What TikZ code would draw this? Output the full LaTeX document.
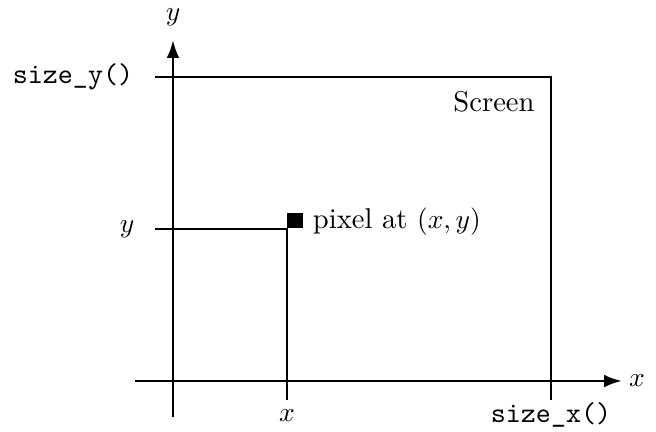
\documentclass[tikz,border=0pt]{standalone}
\usetikzlibrary{arrows.meta, positioning}
\begin{document}
\begin{tikzpicture}[x=0.3636pt, y=0.3636pt, font=\fontsize{10.4}{12}\selectfont,
  axis/.style={line width=0.95pt, -{Latex[length=6.5pt, width=4.6pt]}},
  guide/.style={line width=0.6pt}]
  \useasboundingbox (-173,-50) rectangle (483,381);
  \def\sx{378}\def\sy{304}
  \def\px{114}\def\py{152}

  % Axes
  \coordinate (xstart) at (-38,0);
  \coordinate (xend) at (449,0);
  \coordinate (ystart) at (0,-36);
  \coordinate (yend) at (0,341);
  \draw[axis] (xstart) -- (xend);
  \draw[axis] (ystart) -- (yend);
  \node (xaxis) at (464,0) {$x$};
  \node (yaxis) at (0,364) {$y$};

  % Screen outline
  \coordinate (scrtl) at (-18,\sy);
  \coordinate (scrtr) at (\sx,\sy);
  \coordinate (scrbr) at (\sx,-19);
  \draw[guide] (scrtl) -- (scrtr) -- (scrbr);
  \node (screen) at (321,279) {Screen};
  \node (sizey) at (-100,\sy) {\texttt{size\_y()}};
  \node (sizex) at (\sx,-34) {\texttt{size\_x()}};

  % Pixel
  \coordinate (pxl) at (-18,\py);
  \coordinate (pxc) at (\px,\py);
  \coordinate (pxb) at (\px,-19);
  \draw[guide] (pxl) -- (pxc) -- (pxb);
  \node[fill, inner sep=0pt, minimum size=5.8pt, anchor=south west]
    (sq) at (113.2,\py) {};
  \node[right=0pt of sq, yshift=-0.3pt] (pxlabel) {pixel at $(x,y)$};
  \node (ylab) at (-46,\py) {$y$};
  \node (xlab) at (\px,-35) {$x$};

\end{tikzpicture}
\end{document}
